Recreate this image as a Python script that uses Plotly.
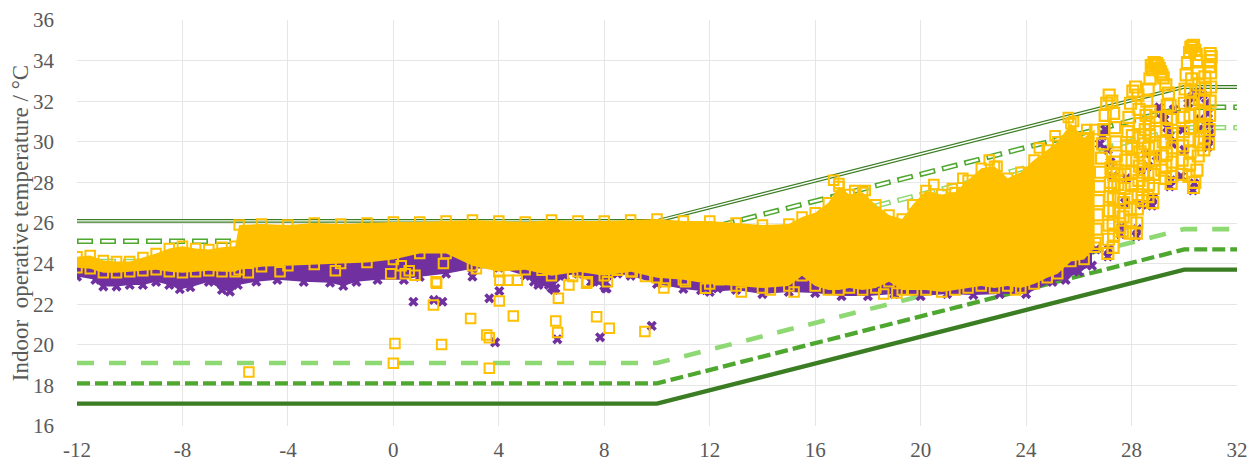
import plotly.graph_objects as go

# ---------------- comfort-limit lines ----------------
LINE_X = [-12, 10, 30, 32]
CAT_III_UP = [26.1, 26.1, 32.7, 32.7]
CAT_II_UP = [25.1, 25.1, 31.7, 31.7]
CAT_I_UP = [24.1, 24.1, 30.7, 30.7]
CAT_I_LO = [19.1, 19.1, 25.7, 25.7]
CAT_II_LO = [18.1, 18.1, 24.7, 24.7]
CAT_III_LO = [17.1, 17.1, 23.7, 23.7]

# ---------------- dense cloud envelopes ----------------
YEL_ENV_X = [-12, -11.5, -11.0, -10.5, -10.0, -9.5, -9.0, -8.5, -8.0, -7.5,
             -7.0, -6.5, -6.0, -5.85, -5.0, -4.0, -3.0, -2.0, -1.0, 0.0,
             1.0, 2.0, 3.0, 4.0, 5.0, 6.0, 7.0, 8.0, 9.0, 10.0,
             11.0, 12.0, 13.0, 14.0, 15.0, 15.5, 16.0, 16.5, 16.9, 17.3,
             17.8, 18.3, 18.8, 19.3, 19.7, 20.2, 20.8, 21.3, 21.8, 22.3,
             22.8, 23.3, 23.8, 24.3, 24.8, 25.2, 25.7, 26.2, 26.6]
YEL_ENV_HI = [24.34, 24.4, 24.15, 24.1, 24.1, 24.3, 24.5, 24.75, 24.85, 24.75,
              24.7, 24.8, 24.85, 25.9, 25.95, 25.9, 26.0, 25.95, 26.0, 26.05,
              26.05, 26.1, 26.15, 26.1, 26.05, 26.15, 26.1, 26.1, 26.15, 26.2,
              26.1, 26.1, 26.0, 25.9, 25.95, 26.3, 26.5, 27.0, 27.8, 27.4,
              27.5, 26.9, 26.4, 26.2, 26.9, 27.6, 27.4, 27.5, 28.1, 28.7,
              28.8, 28.2, 28.5, 29.1, 29.6, 30.0, 30.9, 30.2, 30.6]
YEL_ENV_LO = [23.8, 23.75, 23.55, 23.55, 23.6, 23.65, 23.7, 23.6, 23.55, 23.6,
              23.65, 23.6, 23.6, 23.7, 23.85, 23.9, 23.95, 24.0, 24.05, 24.2,
              24.5, 24.5, 23.9, 23.6, 23.7, 23.4, 23.6, 23.4, 23.6, 23.3,
              23.2, 23.0, 22.9, 22.8, 22.9, 23.4, 22.9, 22.7, 22.7, 22.8,
              22.7, 22.8, 23.1, 22.7, 22.7, 22.7, 22.6, 22.7, 22.8, 22.9,
              22.8, 22.9, 22.8, 23.0, 23.3, 23.5, 24.1, 24.2, 24.8]

PUR_ENV_X = [-12, -11.3, -11.0, -10.5, -10.0, -9.5, -9.0, -8.5, -8.1, -7.7,
             -7.0, -6.5, -6.2, -5.9, -5.2, -4.4, -3.4, -2.4, -1.9, -1.4,
             -0.6, 0.4, 1.0, 2.0, 3.0, 4.0, 5.0, 5.5, 6.0, 6.5,
             7.0, 7.5, 8.0, 8.5, 9.0, 10.0, 11.0, 12.0, 13.0, 14.0,
             15.0, 16.0, 17.0, 18.0, 19.0, 20.0, 21.0, 22.0, 23.0, 24.0,
             25.0, 25.5, 26.0, 26.5]
PUR_ENV_LO = [23.36, 23.2, 22.87, 22.87, 22.95, 22.95, 23.1, 22.95, 22.74, 22.84,
              23.1, 22.7, 22.62, 22.95, 23.11, 23.2, 23.1, 23.06, 22.9, 23.1,
              23.2, 23.2, 23.35, 23.5, 23.75, 23.8, 23.4, 22.95, 22.8, 23.4,
              23.5, 23.1, 22.9, 23.5, 23.4, 23.0, 22.75, 22.6, 22.7, 22.5,
              22.6, 22.55, 22.4, 22.4, 22.5, 22.4, 22.5, 22.45, 22.5, 22.5,
              23.1, 23.2, 23.6, 23.9]
PUR_ENV_HI = [24.0, 24.0, 23.9, 23.9, 23.9, 24.0, 24.0, 24.0, 24.0, 24.0,
              24.0, 24.0, 24.0, 24.3, 24.4, 24.4, 24.4, 24.4, 24.5, 24.5,
              24.6, 24.7, 24.7, 24.7, 24.6, 24.5, 24.5, 24.5, 24.5, 24.5,
              24.5, 24.5, 24.5, 24.5, 24.5, 24.5, 24.5, 24.5, 24.5, 24.5,
              24.5, 24.5, 24.5, 24.5, 24.5, 24.5, 24.5, 24.5, 25.0, 25.5,
              26.0, 26.5, 27.0, 27.5]

# ---------------- individual points: right-hand loops ----------------
YEL_R_X = [26.62, 26.66, 26.7, 26.74, 26.78, 26.82, 26.86, 26.9, 26.95, 27.0,
           27.06, 27.15, 27.25, 27.32, 27.36, 27.4, 27.42, 27.45, 27.48, 27.5,
           27.52, 27.55, 27.1, 27.12, 27.14, 27.16, 27.18, 27.2, 27.22,
           27.65, 27.68, 27.7, 27.72, 27.75, 27.78, 27.82, 27.86, 27.9, 27.96,
           28.05, 28.15, 28.24, 28.28, 28.3, 28.32, 28.32, 28.3, 28.28, 28.25,
           28.22, 28.2, 28.18,
           28.42, 28.44, 28.46, 28.48, 28.5, 28.52, 28.55, 28.58, 28.63, 28.7,
           28.8, 28.9, 29.0, 29.1, 29.2, 29.3, 29.4, 29.46, 29.5, 29.52,
           29.54, 29.54, 29.52, 29.5,
           28.8, 28.82, 28.84, 28.86, 28.88, 28.9, 28.92, 29.15, 29.17, 29.2,
           29.9, 29.92, 29.94, 29.96, 29.98, 30.0, 30.03, 30.07, 30.12, 30.2,
           30.3, 30.4, 30.47, 30.52, 30.55, 30.57, 30.58, 30.58, 30.56, 30.53,
           30.48, 30.4, 30.35,
           30.92, 30.94, 30.96, 30.98, 31.0, 31.0, 31.0, 30.98,
           27.3, 27.32, 27.3, 27.33, 27.31, 27.34, 27.32, 27.35,
           27.95, 27.97, 27.95, 27.98, 28.0, 27.98, 28.02, 28.0, 28.03,
           28.62, 28.64, 28.62, 28.66, 28.64, 28.68, 28.66, 28.7,
           29.28, 29.3, 29.32, 29.3, 29.34, 29.32, 29.36,
           30.18, 30.2, 30.22, 30.2, 30.24, 30.22, 30.26, 30.24, 30.28,
           30.74, 30.76, 30.74, 30.78, 30.76, 30.8, 30.78,
           28.75, 28.85, 28.95, 29.05, 29.15, 30.25, 30.35, 30.45, 30.95, 31.02]
YEL_R_Y = [25.0, 25.7, 26.4, 27.1, 27.8, 28.5, 29.2, 29.9, 30.6, 31.3,
           31.9, 32.3, 32.0, 31.4, 30.7, 30.0, 29.3, 28.6, 27.9, 27.2,
           26.5, 25.8, 24.5, 25.2, 25.9, 26.6, 27.3, 28.0, 28.7,
           25.6, 26.3, 27.0, 27.7, 28.4, 29.1, 29.8, 30.5, 31.2, 31.9,
           32.5, 32.7, 32.3, 31.6, 30.9, 30.2, 29.5, 28.8, 28.1, 27.4,
           26.7, 26.0, 25.5,
           27.1, 27.8, 28.5, 29.2, 29.9, 30.6, 31.3, 32.0, 32.6, 33.1,
           33.55, 33.85, 33.75, 33.45, 33.15, 32.8, 32.4, 31.8, 31.1, 30.4,
           29.7, 29.0, 28.3, 27.95,
           27.0, 27.7, 28.4, 29.1, 29.8, 30.5, 31.2, 28.6, 29.3, 30.0,
           28.4, 29.1, 29.8, 30.5, 31.2, 31.9, 32.6, 33.3, 33.9, 34.4,
           34.7, 34.5, 34.0, 33.4, 32.8, 32.1, 31.4, 30.7, 30.0, 29.3,
           28.6, 28.0, 27.75,
           29.9, 30.6, 31.3, 32.0, 32.7, 33.4, 34.0, 34.35,
           24.8, 25.4, 26.0, 26.6, 27.2, 27.8, 28.4, 29.0,
           25.5, 26.1, 26.7, 27.3, 27.9, 28.5, 29.1, 29.7, 30.3,
           27.3, 27.9, 28.5, 29.1, 29.7, 30.3, 30.9, 31.5,
           28.2, 28.8, 29.4, 30.0, 30.6, 31.2, 31.8,
           28.3, 28.9, 29.5, 30.1, 30.7, 31.3, 31.9, 32.5, 33.1,
           29.6, 30.2, 30.8, 31.4, 32.0, 32.6, 33.2,
           33.75, 33.9, 33.85, 33.6, 33.3, 34.65, 34.75, 34.3, 33.7, 34.2]

PUR_R_X = [26.65, 27.1, 27.14, 27.58, 27.62, 28.18, 28.22, 28.4, 28.78, 28.82,
           29.45, 29.5, 29.88, 30.33, 30.38, 30.9, 30.93,
           26.8, 26.9, 27.0, 27.1, 27.2, 27.3,
           29.05, 29.15, 29.25, 29.35, 29.45, 29.55,
           30.15, 30.28, 30.42, 30.56, 30.7, 30.82, 30.9, 30.95, 30.98,
           28.55, 28.62, 28.95, 29.95, 30.0, 30.55, 30.6, 29.6, 28.35, 27.8, 27.75]
PUR_R_Y = [24.7, 24.35, 24.7, 25.45, 25.8, 25.35, 25.7, 26.9, 26.85, 27.2,
           27.8, 28.1, 28.3, 27.6, 27.95, 29.75, 30.1,
           29.9, 30.3, 30.6, 29.6, 29.0, 28.3,
           31.7, 31.4, 31.1, 30.7, 30.3, 29.9,
           31.9, 32.2, 32.4, 32.45, 32.3, 31.9, 31.4, 30.9, 30.4,
           29.4, 28.8, 29.3, 30.6, 29.6, 30.6, 31.1, 31.6, 28.6, 28.2, 27.0]

# ---------------- individual points: scattered / outliers ----------------
YEL_S_X = [-5.48, 0.06, 0.0, 1.83, 1.52, 2.93, 3.54, 3.64, 3.64, 4.02,
           4.55, 6.16, 6.23, 6.26, 7.71, 8.19, 9.54,
           -5.5, -4.3, -2.2, -0.1, 0.3, 0.45, 0.6, 0.82, 1.62, 1.9,
           2.9, 3.15, 4.04, 4.36, 4.7, 5.64, 6.66, 6.8, 7.36, 8.12,
           8.49, 9.06, 9.56, 10.26, 10.32, 11.08, 11.84, 12.35, 7.33, 1.64,
           16.7, 16.9, 17.5, 17.9, 20.5, 21.2, 21.6, 22.6, 22.9, 24.5,
           25.1, 25.6, 25.8, 26.3, 13.2, 14.3, 15.2, 18.6, 19.1, 23.6]
YEL_S_Y = [18.66, 20.07, 19.09, 20.02, 21.96, 21.3, 20.48, 20.35, 18.84, 22.16,
           21.42, 21.17, 20.61, 22.29, 21.38, 20.81, 20.65,
           23.55, 23.6, 23.65, 23.5, 23.9, 23.5, 23.65, 23.43, 23.11, 24.0,
           24.4, 23.75, 23.18, 23.18, 23.18, 23.67, 22.95, 23.36, 23.11, 23.11,
           23.67, 23.6, 23.36, 22.8, 23.1, 23.11, 22.78, 23.2, 23.03, 23.03,
           28.1, 27.95, 27.6, 27.6, 27.9, 27.7, 28.2, 29.1, 28.8, 29.7,
           30.3, 31.2, 31.0, 30.6, 22.6, 22.7, 22.6, 22.5, 22.55, 22.7]

PUR_S_X = [0.76, 1.54, 1.86, 3.64, 4.02, 3.86, 6.22, 7.84, 9.8, 8.09,
           3.0, 5.33, 5.52, 5.9, 6.09, 6.15, 7.8, 8.05, 9.25, 9.4,
           11.04, 11.67, 12.3, 12.5]
PUR_S_Y = [22.12, 22.21, 22.12, 22.29, 22.65, 20.12, 20.27, 20.37, 20.93, 22.78,
           23.36, 23.11, 23.03, 22.95, 22.7, 22.78, 23.11, 22.78, 24.67, 23.85,
           24.5, 22.69, 22.78, 23.67]

X_TICKS = [-12, -8, -4, 0, 4, 8, 12, 16, 20, 24, 28, 32]
Y_TICKS = [16, 18, 20, 22, 24, 26, 28, 30, 32, 34, 36]

DARK_G = "#3B7D23"
MID_G = "#4EA72E"
LIGHT_G = "#8ED973"
PURPLE = "#7030A0"
YELLOW = "#FFC000"

fig = go.Figure()

def line(x, y, color, width, dash="solid"):
    fig.add_trace(go.Scatter(x=x, y=y, mode="lines", hoverinfo="skip",
                             line=dict(color=color, width=width, dash=dash)))

# lower limits
line(LINE_X, CAT_III_LO, DARK_G, 4.3)
line(LINE_X, CAT_II_LO, MID_G, 4.3, "13px,5px")
line(LINE_X, CAT_I_LO, LIGHT_G, 4.6, "17px,15px")
# upper limits (compound / outlined styles)
line(LINE_X, CAT_III_UP, DARK_G, 3.8)
line(LINE_X, CAT_III_UP, "white", 1.3)
line(LINE_X, CAT_II_UP, MID_G, 5.4, "16px,7px")
line(LINE_X, CAT_II_UP, "white", 2.4, "0px,1.6px,12.8px,8.6px")
line(LINE_X, CAT_I_UP, LIGHT_G, 5.4, "16px,7px")
line(LINE_X, CAT_I_UP, "white", 2.4, "0px,1.6px,12.8px,8.6px")

# purple cloud
fig.add_trace(go.Scatter(x=PUR_ENV_X + PUR_ENV_X[::-1], y=PUR_ENV_HI + PUR_ENV_LO[::-1],
                         fill="toself", fillcolor=PURPLE, mode="lines",
                         line=dict(width=0, color=PURPLE), hoverinfo="skip"))
pur_marker = dict(symbol="x", size=9, color=PURPLE, line=dict(width=0))
fig.add_trace(go.Scatter(x=PUR_ENV_X, y=PUR_ENV_LO, mode="markers", marker=pur_marker))
fig.add_trace(go.Scatter(x=PUR_R_X, y=PUR_R_Y, mode="markers", marker=pur_marker))
fig.add_trace(go.Scatter(x=PUR_S_X, y=PUR_S_Y, mode="markers", marker=pur_marker))

# yellow cloud
fig.add_trace(go.Scatter(x=YEL_ENV_X + YEL_ENV_X[::-1], y=YEL_ENV_HI + YEL_ENV_LO[::-1],
                         fill="toself", fillcolor=YELLOW, mode="lines",
                         line=dict(width=0, color=YELLOW), hoverinfo="skip"))
yel_marker = dict(symbol="square-open", size=9.5, color=YELLOW, line=dict(width=2, color=YELLOW))
yel_marker_big = dict(symbol="square-open", size=11, color=YELLOW, line=dict(width=2.2, color=YELLOW))
fig.add_trace(go.Scatter(x=YEL_ENV_X, y=YEL_ENV_HI, mode="markers", marker=yel_marker))
fig.add_trace(go.Scatter(x=YEL_ENV_X, y=YEL_ENV_LO, mode="markers", marker=yel_marker))
fig.add_trace(go.Scatter(x=YEL_R_X, y=YEL_R_Y, mode="markers", marker=yel_marker_big))
fig.add_trace(go.Scatter(x=YEL_S_X, y=YEL_S_Y, mode="markers", marker=yel_marker))

font = dict(family="Liberation Serif", size=21, color="#595959")
title_font = dict(family="Liberation Serif", size=23, color="#595959")
# the page body adds an 8 px offset, so the figure is 8 px smaller and margins shifted
fig.update_layout(
    width=1250, height=456, showlegend=False,
    paper_bgcolor="white", plot_bgcolor="white",
    margin=dict(l=69, r=21, t=12, b=38, autoexpand=False),
    font=font,
)
fig.update_xaxes(range=[-12, 32], tickvals=X_TICKS, ticktext=[str(v) for v in X_TICKS],
                 showgrid=True, gridcolor="#E6E6E6", gridwidth=1, zeroline=False,
                 showline=False, ticks="", ticklabelstandoff=9, tickfont=font,
                 automargin=False)
fig.update_yaxes(range=[16, 36], tickvals=Y_TICKS, ticktext=[str(v) for v in Y_TICKS],
                 showgrid=True, gridcolor="#E6E6E6", gridwidth=1, zeroline=False,
                 showline=False, ticks="", ticklabelstandoff=22, tickfont=font,
                 automargin=False,
                 title=dict(text="Indoor\u00a0 operative temperature / °C", font=title_font, standoff=4))

fig.write_html("out.html")
